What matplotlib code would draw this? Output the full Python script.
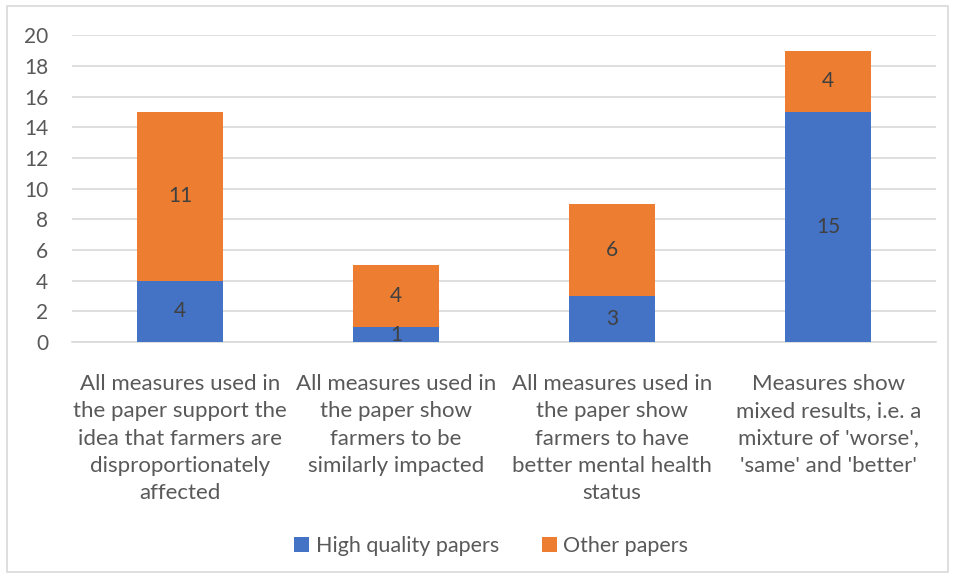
import numpy as np
import matplotlib.pyplot as plt
from matplotlib.patches import Rectangle

categories = [
    "All measures used in\nthe paper support the\nidea that farmers are\ndisproportionately\naffected",
    "All measures used in\nthe paper show\nfarmers to be\nsimilarly impacted",
    "All measures used in\nthe paper show\nfarmers to have\nbetter mental health\nstatus",
    "Measures show\nmixed results, i.e. a\nmixture of 'worse',\n'same' and 'better'",
]
high_quality = [4, 1, 3, 15]
other = [11, 4, 6, 4]

plt.rcParams['font.family'] = ['Lato', 'DejaVu Sans']
text_col = '#595959'

fig = plt.figure(figsize=(9.55, 5.78), dpi=100)
fig.patches.append(Rectangle((7 / 955, 6 / 578), 941 / 955, 566 / 578,
                             transform=fig.transFigure, fill=False,
                             edgecolor='#d9d9d9', linewidth=1.2))
ax = fig.add_axes([0.0754, 0.408, 0.905, 0.5311])

x = np.arange(len(categories))
w = 0.4
b1 = ax.bar(x, high_quality, w, color='#4472C4', label='High quality papers', zorder=3)
b2 = ax.bar(x, other, w, bottom=high_quality, color='#ED7D31', label='Other papers', zorder=3)

for bars, vals, bots in [(b1, high_quality, [0] * 4), (b2, other, high_quality)]:
    for rect, v, b in zip(bars, vals, bots):
        ax.text(rect.get_x() + rect.get_width() / 2, b + v / 2, str(v),
                ha='center', va='center', fontsize=15, color='#404040', zorder=4)

ax.set_xlim(-0.5, 3.5)
ax.set_ylim(0, 20)
ax.set_yticks(range(0, 21, 2))
ax.yaxis.grid(True, color='#d9d9d9', linewidth=1.2, zorder=0)
for s in ax.spines.values():
    s.set_visible(False)
ax.spines['bottom'].set_visible(True)
ax.spines['bottom'].set_color('#d9d9d9')
ax.spines['bottom'].set_linewidth(1.2)
ax.tick_params(axis='y', length=0, labelsize=15, labelcolor=text_col, pad=17)
ax.set_xticks(x)
ax.set_xticklabels(categories, linespacing=1.45)
ax.tick_params(axis='x', length=0, labelsize=16, labelcolor=text_col, pad=23)

ax.legend(loc='center', bbox_to_anchor=(0.485, -0.665), ncol=2, frameon=False,
          fontsize=15.5, labelcolor=text_col, handlelength=0.7, handleheight=0.7,
          handletextpad=0.3, columnspacing=2.0)

fig.savefig('out.png', dpi=100)
